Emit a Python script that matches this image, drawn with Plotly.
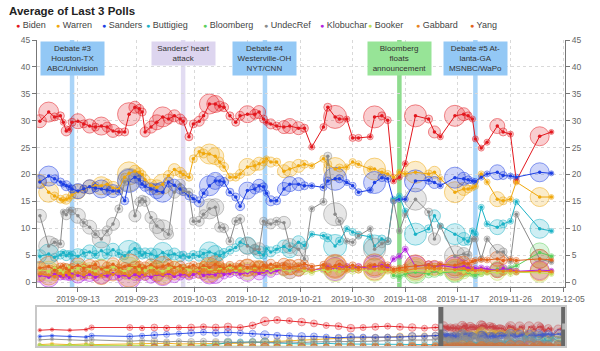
import plotly.graph_objects as go

# ---------------- data (main window) ----------------
dates = [
    "2019-09-06 12:00", "2019-09-08", "2019-09-09", "2019-09-10", "2019-09-10 12:00",
    "2019-09-11", "2019-09-11 12:00", "2019-09-12", "2019-09-13", "2019-09-14",
    "2019-09-15", "2019-09-16", "2019-09-17", "2019-09-18", "2019-09-19",
    "2019-09-20", "2019-09-21", "2019-09-21 18:00", "2019-09-22 18:00", "2019-09-23 12:00",
    "2019-09-24", "2019-09-24 12:00", "2019-09-25 12:00", "2019-09-26 12:00", "2019-09-27 12:00",
    "2019-09-28 12:00", "2019-09-29 12:00", "2019-09-30 12:00", "2019-10-01", "2019-10-02",
    "2019-10-02 18:00", "2019-10-03 18:00", "2019-10-04 12:00", "2019-10-05 12:00", "2019-10-06 12:00",
    "2019-10-07 06:00", "2019-10-08", "2019-10-09", "2019-10-10", "2019-10-10 18:00",
    "2019-10-12", "2019-10-13 06:00", "2019-10-14", "2019-10-14 18:00", "2019-10-15 06:00",
    "2019-10-16", "2019-10-17", "2019-10-18 06:00", "2019-10-19 06:00", "2019-10-20 18:00",
    "2019-10-21 18:00", "2019-10-23", "2019-10-25", "2019-10-25 18:00", "2019-10-27",
    "2019-10-27 18:00", "2019-10-29", "2019-10-30", "2019-10-31", "2019-11-02",
    "2019-11-02 18:00", "2019-11-04", "2019-11-05", "2019-11-06", "2019-11-07",
    "2019-11-08", "2019-11-09 18:00", "2019-11-12", "2019-11-13", "2019-11-14",
    "2019-11-16 12:00", "2019-11-18", "2019-11-18 18:00", "2019-11-19 12:00", "2019-11-20",
    "2019-11-21", "2019-11-22", "2019-11-23 18:00", "2019-11-24 18:00", "2019-11-26",
    "2019-11-27", "2019-12-01", "2019-12-03",
]

poll_size = [
    13, 20, 8, 8, 6, 10, 6, 8, 15, 8,
    14, 8, 18, 10, 13, 8, 8, 23, 12, 9,
    8, 10, 12, 15, 20, 10, 12, 10, 8, 8,
    8, 10, 9, 20, 17, 10, 9, 8, 8, 9,
    17, 10, 13, 8, 6, 10, 8, 13, 15, 13,
    8, 6, 7, 8, 23, 8, 6, 7, 7, 6,
    22, 8, 7, 6, 6, 6, 22, 8, 12, 6,
    21, 13, 8, 6, 6, 6, 6, 15, 8, 6,
    6, 19, 5,
]

biden = [
    29.9, 31.6, 30.7, 30.9, 29.7, 28.1, 28.4, 29.7, 29.9, 29.4,
    29.0, 28.8, 29.0, 28.8, 28.1, 27.9, 27.9, 31.2, 32.5, 32.2,
    31.6, 27.9, 28.8, 29.7, 30.7, 30.3, 30.9, 30.3, 29.9, 27.0,
    29.4, 29.9, 30.9, 33.1, 33.1, 32.7, 32.5, 30.9, 29.7, 30.9,
    31.2, 31.2, 31.6, 30.3, 29.7, 29.4, 29.0, 28.8, 29.0, 28.6,
    28.6, 25.1, 28.8, 32.5, 30.7, 30.3, 30.3, 26.8, 26.8, 27.0,
    30.7, 30.9, 30.1, 18.8, 19.5, 22.0, 30.9, 30.3, 27.9, 27.0,
    30.9, 31.2, 30.9, 30.3, 26.6, 24.9, 26.0, 29.0, 27.9, 27.5,
    18.8, 27.1, 27.9,
]
warren = [
    18.8, 16.7, 16.0, 15.4, 15.2, 15.4, 15.6, 16.2, 16.8, 17.2,
    17.7, 17.9, 17.9, 18.2, 17.5, 17.3, 19.5, 20.2, 20.6, 20.4,
    20.0, 19.0, 18.0, 17.6, 18.2, 19.8, 20.9, 20.4, 20.0, 19.5,
    22.9, 24.2, 23.9, 23.8, 23.4, 22.3, 21.4, 19.5, 19.5, 20.1,
    21.4, 21.6, 22.0, 22.3, 22.9, 22.3, 22.3, 20.6, 21.0, 21.6,
    21.9, 21.6, 22.9, 21.9, 21.0, 21.2, 21.4, 22.3, 21.9, 21.0,
    21.0, 20.4, 20.1, 19.5, 20.4, 20.1, 20.4, 20.1, 20.4, 19.2,
    16.7, 17.3, 17.3, 17.5, 17.8, 20.1, 18.6, 15.4, 15.1, 15.4,
    18.6, 15.8, 15.8,
]
sanders = [
    18.6, 19.7, 19.2, 18.6, 18.2, 17.9, 17.7, 17.3, 16.9, 17.3,
    17.7, 17.5, 17.3, 17.1, 16.9, 16.9, 15.1, 18.8, 19.5, 19.0,
    18.2, 17.8, 17.3, 16.9, 16.7, 18.6, 18.0, 17.3, 16.8, 16.0,
    15.5, 14.9, 16.5, 17.9, 18.8, 18.8, 18.6, 16.7, 15.8, 14.1,
    17.0, 17.3, 17.9, 17.7, 16.5, 15.1, 15.1, 17.3, 18.2, 18.2,
    17.9, 17.9, 17.6, 18.8, 19.2, 19.2, 18.5, 17.9, 16.7, 17.1,
    18.5, 19.4, 19.2, 15.1, 15.4, 15.4, 18.8, 18.9, 18.5, 17.9,
    19.4, 19.2, 19.0, 18.8, 18.7, 19.5, 20.1, 20.4, 19.8, 19.7,
    19.5, 20.4, 20.2,
]
buttigieg = [
    4.8, 5.2, 4.6, 5.0, 5.5, 4.9, 5.3, 5.0, 4.8, 5.4,
    5.6, 5.1, 5.8, 5.2, 6.0, 5.3, 4.9, 5.6, 6.2, 5.5,
    5.0, 5.4, 5.2, 4.8, 5.5, 5.0, 5.2, 4.7, 5.0, 4.6,
    5.1, 4.8, 5.3, 5.6, 5.2, 4.9, 5.4, 5.9, 6.4, 7.4,
    6.8, 6.0, 5.5, 5.0, 6.2, 5.6, 6.1, 6.6, 5.9, 7.4,
    6.8, 8.9, 8.6, 8.2, 6.7, 7.6, 9.9, 9.3, 8.8, 8.4,
    6.7, 8.0, 7.6, 15.4, 16.0, 13.2, 8.9, 9.9, 12.3, 10.4,
    8.9, 8.0, 7.6, 9.5, 8.9, 13.9, 10.8, 10.2, 10.8, 11.3,
    14.9, 9.9, 9.5,
]
bloomberg = [None] * 63 + [
    1.2, 1.0, 1.5, 1.8, 1.5, 2.0, 1.7,
    1.9, 2.2, 1.8, 1.5, 1.2, 1.6, 1.9, 2.4, 2.2, 2.6,
    3.0, 5.5, 4.8,
]
undecref = [
    12.3, 6.7, 7.4, 7.1, 13.0, 12.5, 13.4, 13.2, 12.3, 11.0,
    10.2, 8.9, 8.0, 9.5, 10.8, 13.6, 18.6, 19.0, 12.3, 14.9,
    15.4, 15.0, 12.0, 10.4, 9.7, 8.9, 16.7, 18.2, 16.9, 16.7,
    11.3, 11.3, 12.6, 13.6, 13.9, 10.2, 10.0, 7.6, 11.3, 11.7,
    6.7, 6.1, 6.1, 11.3, 11.0, 10.8, 11.3, 11.0, 6.7, 6.1,
    4.3, 13.6, 14.9, 23.4, 12.6, 11.3, 7.6, 7.4, 8.6, 9.9,
    6.1, 7.1, 7.6, 15.1, 9.5, 12.5, 15.4, 13.0, 8.0, 10.4,
    4.8, 5.2, 5.0, 8.0, 8.0, 4.3, 8.0, 5.6, 5.6, 3.9,
    12.6, 4.3, 3.7,
]
klobuchar = [
    1.2, 0.9, 1.4, 1.1, 1.0, 1.3, 0.8, 1.5, 1.2, 1.0,
    1.4, 0.9, 1.3, 1.1, 1.6, 1.0, 1.3, 0.8, 1.4, 1.1,
    1.5, 1.2, 0.9, 1.4, 1.2, 1.6, 1.0, 1.3, 1.5, 1.1,
    1.4, 1.7, 1.2, 1.5, 1.3, 1.8, 1.4, 1.6, 1.9, 1.5,
    1.7, 2.0, 1.6, 1.9, 2.2, 1.8, 2.1, 2.4, 2.0, 2.3,
    2.6, 2.2, 2.5, 2.8, 2.4, 2.7, 2.9, 2.5, 2.8, 2.6,
    2.9, 3.1, 2.7, 4.3, 4.8, 6.1, 2.9, 3.2, 2.8, 3.1,
    2.7, 2.9, 2.6, 2.4, 2.5, 2.6, 2.4, 2.2, 2.5, 2.3,
    2.0, 2.2, 2.1,
]
booker = [
    2.3, 2.0, 2.6, 2.2, 1.8, 2.4, 2.7, 2.1, 2.5, 2.9,
    2.3, 2.0, 2.6, 2.2, 2.8, 2.4, 2.0, 2.5, 2.9, 2.3,
    2.6, 2.1, 2.7, 2.4, 2.0, 2.5, 2.8, 2.2, 2.6, 2.3,
    2.0, 2.5, 2.9, 2.4, 2.1, 2.6, 2.3, 2.8, 2.2, 2.5,
    2.0, 2.4, 2.7, 2.2, 2.5, 2.1, 2.6, 2.3, 2.0, 2.4,
    2.1, 1.8, 2.3, 2.0, 2.2, 1.9, 2.4, 2.1, 2.3, 2.0,
    2.2, 1.9, 2.1, 1.8, 2.0, 1.9, 2.2, 2.0, 2.3, 1.9,
    2.1, 1.8, 2.0, 1.7, 1.9, 1.6, 1.8, 1.7, 1.9, 1.6,
    1.8, 1.7, 1.5,
]
gabbard = [
    1.5, 1.3, 1.0, 1.6, 1.2, 1.8, 1.4, 1.1, 1.7, 1.3,
    1.9, 1.5, 1.2, 1.8, 1.4, 2.0, 1.6, 1.2, 1.9, 1.5,
    1.8, 1.3, 2.0, 1.6, 1.4, 1.9, 1.5, 2.1, 1.7, 1.3,
    2.0, 1.6, 2.2, 1.8, 2.3, 1.9, 2.4, 2.0, 2.5, 2.1,
    2.6, 2.2, 2.8, 2.3, 2.7, 2.4, 2.9, 2.5, 2.8, 2.3,
    2.6, 2.2, 2.7, 2.4, 2.8, 2.5, 2.2, 2.6, 2.3, 2.7,
    2.4, 2.6, 2.3, 2.0, 2.2, 2.1, 2.5, 2.7, 2.4, 2.6,
    2.3, 2.5, 2.2, 2.4, 2.1, 2.3, 2.0, 2.2, 2.0, 2.1,
    1.9, 2.0, 1.9,
]
yang = [
    2.6, 2.9, 2.2, 2.8, 3.0, 2.5, 2.2, 2.7, 3.1, 2.6,
    2.9, 3.2, 2.4, 2.8, 3.3, 2.6, 2.9, 3.1, 2.7, 3.0,
    2.5, 2.8, 3.2, 2.6, 2.9, 3.3, 2.7, 3.0, 2.5, 2.8,
    3.1, 2.6, 3.0, 2.7, 3.3, 2.9, 2.6, 3.1, 2.8, 3.2,
    2.7, 3.0, 2.6, 3.1, 2.8, 3.3, 2.9, 3.2, 2.7, 3.0,
    3.4, 2.9, 3.2, 2.6, 3.0, 3.3, 2.8, 3.1, 2.7, 3.0,
    3.2, 2.9, 3.1, 2.4, 2.6, 2.8, 3.0, 3.2, 2.9, 3.3,
    3.1, 3.6, 3.4, 3.8, 4.0, 4.2, 4.1, 4.3, 4.0, 4.2,
    4.0, 4.3, 4.1,
]

# ---------------- data (earlier polls, seen only in the overview slider) ----------------
early_dates = [
    "2018-11-16", "2018-11-25", "2018-12-08", "2018-12-20", "2018-12-24",
    "2019-01-21", "2019-01-30", "2019-02-08", "2019-02-17", "2019-02-26",
    "2019-03-07", "2019-03-16", "2019-03-25", "2019-04-03", "2019-04-12",
    "2019-04-21", "2019-04-30", "2019-05-09", "2019-05-18", "2019-05-27",
    "2019-06-05", "2019-06-14", "2019-06-23", "2019-07-02", "2019-07-11",
    "2019-07-20", "2019-07-29", "2019-08-07", "2019-08-16", "2019-08-25",
    "2019-09-02",
]
early_size = [6, 6, 6, 6, 10, 12, 10, 14, 12, 10, 14, 12, 14, 16, 12, 14,
              18, 14, 12, 16, 14, 12, 14, 16, 12, 14, 12, 14, 16, 12, 14]
early_biden = [26, 27, 26, 27, 30, 30, 29, 30, 29, 30, 30, 31, 30, 31, 30, 33,
               39, 41, 40, 38, 36, 33, 32, 29, 30, 31, 32, 31, 30, 29, 30]
early_warren = [5, 6, 5, 6, 5, 6, 7, 7, 7, 6, 6, 6, 7, 7, 7, 8,
                9, 10, 11, 12, 13, 14, 14, 15, 15, 15, 16, 17, 17, 18, 18]
early_sanders = [17, 18, 17, 16, 18, 17, 18, 19, 20, 21, 22, 23, 22, 23, 22, 21,
                 19, 18, 18, 17, 17, 16, 15, 16, 16, 15, 16, 16, 17, 17, 18]
early_buttigieg = [0, 0, 0, 0, 0, 0.5, 0.5, 1, 1, 1, 2, 3, 5, 8, 9, 9,
                   8, 7, 6, 6, 6, 7, 6, 6, 5, 5, 5, 5, 5, 5, 5]
early_bloomberg = [4, 3, 4, 4, 3, 3, 3, 2, 2, 2] + [None] * 21
early_undecref = [12, 13, 12, 11, 12, 10, 11, 10, 9, 10, 9, 10, 9, 9, 8, 9,
                  8, 8, 9, 8, 9, 9, 10, 9, 10, 10, 11, 11, 12, 11, 12]
early_klobuchar = [0.5, 1, 1, 1, 1.5, 1.5, 2, 2, 1.5, 1.5, 1, 1, 1, 1, 1, 1.5,
                   1, 1, 1, 1, 1, 1, 1, 1, 1.5, 1, 1, 1, 1.5, 1, 1.5]
early_booker = [4, 4, 5, 4, 4, 4, 4, 3, 3, 3, 3, 3, 3, 2, 2, 2,
                2, 3, 3, 3, 2, 2, 2, 3, 2, 2, 2, 2, 2, 2, 2]
early_gabbard = [0, 0, 0, 0, 0, 0.5, 0.5, 0.5, 1, 1, 1, 1, 1, 1, 1, 1,
                 1, 1, 1, 1, 1, 1.5, 1.5, 1.5, 1.5, 1, 1, 1.5, 1.5, 1.5, 1.5]
early_yang = [0, 0, 0, 0, 0, 0, 0, 0.5, 0.5, 0.5, 1, 1, 1, 1, 1, 1,
              1, 1, 1, 1, 1.5, 1.5, 2, 2, 2.5, 2.5, 2.5, 2.5, 3, 3, 3]

candidates = ["Biden", "Warren", "Sanders", "Buttigieg", "Bloomberg",
              "UndecRef", "Klobuchar", "Booker", "Gabbard", "Yang"]
colors = ["#e3171e", "#f0a80c", "#1d3fe3", "#1bb2c6", "#5ccf5c",
          "#8a8a8a", "#b31fe0", "#c3df55", "#e8831f", "#e2621b"]
main_values = [biden, warren, sanders, buttigieg, bloomberg,
               undecref, klobuchar, booker, gabbard, yang]
early_values = [early_biden, early_warren, early_sanders, early_buttigieg, early_bloomberg,
                early_undecref, early_klobuchar, early_booker, early_gabbard, early_yang]

events = [
    ("2019-09-12", "Debate #3<br>Houston-TX<br>ABC/Univision", "#93c8f5", "#a9d4f8", 3),
    ("2019-10-01", "Sanders' heart<br>attack", "#ddd5ef", "#e2dcf2", 2),
    ("2019-10-15", "Debate #4<br>Westerville-OH<br>NYT/CNN", "#93c8f5", "#a9d4f8", 3),
    ("2019-11-07", "Bloomberg<br>floats<br>announcement", "#97e497", "#8edc8e", 3),
    ("2019-11-20", "Debate #5 At-<br>lanta-GA<br>MSNBC/WaPo", "#93c8f5", "#a9d4f8", 3),
]

y_ticks = [0, 5, 10, 15, 20, 25, 30, 35, 40, 45]
x_ticks = ["2019-09-13", "2019-09-23", "2019-10-03", "2019-10-12", "2019-10-21",
           "2019-10-30", "2019-11-08", "2019-11-17", "2019-11-26", "2019-12-05"]

FONT = "Liberation Sans, Arial, sans-serif"


def rgba(hx, a):
    hx = hx.lstrip("#")
    r, g, b = int(hx[0:2], 16), int(hx[2:4], 16), int(hx[4:6], 16)
    return f"rgba({r},{g},{b},{a})"


fig = go.Figure()

# main chart: bubbles
for name, col, vals in zip(candidates, colors, main_values):
    fig.add_trace(go.Scatter(
        x=dates, y=vals, mode="markers", name=name, showlegend=False,
        marker=dict(size=poll_size, sizemode="diameter", color=rgba(col, 0.3),
                    line=dict(color=rgba(col, 0.75), width=1)),
        xaxis="x", yaxis="y", hoverinfo="skip"))
# main chart: lines with small dots
for name, col, vals in zip(candidates, colors, main_values):
    fig.add_trace(go.Scatter(
        x=dates, y=vals, mode="lines+markers", name=name, showlegend=False,
        line=dict(color=col, width=1), marker=dict(size=3.5, color=col),
        connectgaps=True, xaxis="x", yaxis="y"))

# right axis companion (invisible)
fig.add_trace(go.Scatter(x=[dates[0]], y=[0], mode="markers", marker=dict(opacity=0),
                         showlegend=False, hoverinfo="skip", xaxis="x", yaxis="y2"))

# overview slider
all_dates = early_dates + dates
all_sizes = [s * 0.42 + 1 for s in early_size + poll_size]
for name, col, ev, mv in zip(candidates, colors, early_values, main_values):
    vals = ev + mv
    fig.add_trace(go.Scatter(
        x=all_dates, y=vals, mode="markers", showlegend=False, hoverinfo="skip",
        marker=dict(size=all_sizes, color=rgba(col, 0.3), line=dict(color=rgba(col, 0.75), width=0.8)),
        xaxis="x2", yaxis="y3"))
    fig.add_trace(go.Scatter(
        x=all_dates, y=vals, mode="lines+markers", showlegend=False, hoverinfo="skip",
        line=dict(color=col, width=0.9), marker=dict(size=2, color=col), connectgaps=True,
        xaxis="x2", yaxis="y3"))

MAIN_BOTTOM = 0.1928
SL_TOP = 0.1275

shapes = []
annotations = []
for d, label, boxcol, linecol, nlines in events:
    shapes.append(dict(type="line", xref="x", yref="paper", x0=d, x1=d,
                       y0=MAIN_BOTTOM, y1=1, line=dict(color=linecol, width=4.5),
                       layer="between"))
    annotations.append(dict(x=d, xref="x", y=0.997, yref="paper", xanchor="center",
                            yanchor="top", text=label, showarrow=False, align="center",
                            font=dict(size=8, color="#333", family=FONT), bgcolor=boxcol,
                            width=59, height=29 if nlines == 3 else 19, borderpad=2))

# slider selection window and handles
shapes.append(dict(type="rect", xref="x2", yref="paper", x0="2019-09-06", x1="2019-12-05",
                   y0=0, y1=SL_TOP, fillcolor="rgba(150,150,150,0.35)", line=dict(width=0),
                   layer="above"))
for hd in ["2019-09-06", "2019-12-05"]:
    shapes.append(dict(type="rect", xref="x2", yref="paper", xsizemode="pixel", xanchor=hd,
                       x0=-2.5, x1=2.5, y0=0, y1=SL_TOP, fillcolor="#686868",
                       line=dict(width=0), layer="above"))
    shapes.append(dict(type="rect", xref="x2", yref="paper", xsizemode="pixel", xanchor=hd,
                       ysizemode="pixel", yanchor=SL_TOP / 2, x0=-1.5, x1=1.5, y0=-3, y1=3,
                       fillcolor="#b5b5b5", line=dict(width=0), layer="above"))

# legend row (dots + names), dot centres in pixels
legend_dot_x = [17, 57, 103, 147, 204, 265, 321, 369, 417, 471]
for name, col, lx in zip(candidates, colors, legend_dot_x):
    annotations.append(dict(
        x=(lx - 3 - 37) / 528, xref="paper", y=1.049, yref="paper", xanchor="left",
        yanchor="middle", showarrow=False,
        text=f"<span style='color:{col};font-size:7px'>●</span> {name}",
        font=dict(size=9, color="#444", family=FONT)))

axis_common = dict(showline=True, linecolor="#777", linewidth=1, ticks="outside",
                   ticklen=4, tickcolor="#777", tickfont=dict(size=8.5, color="#666", family=FONT))

fig.update_layout(
    width=600, height=351,
    margin=dict(l=37, r=35, t=40, b=5),
    paper_bgcolor="white", plot_bgcolor="white",
    font=dict(family=FONT, size=8.5, color="#666"),
    showlegend=False,
    title=dict(text="<b>Average of Last 3 Polls</b>", x=9 / 600, xref="container",
               xanchor="left", y=1 - 11 / 351, yref="container", yanchor="middle",
               font=dict(size=11.5, color="#222", family=FONT)),
    xaxis=dict(domain=[0, 1], anchor="y", type="date",
               range=["2019-09-06", "2019-12-05 08:00"],
               tickvals=x_ticks, ticktext=x_ticks, showgrid=True, gridcolor="#d9d9d9",
               griddash="dot", zeroline=False, **axis_common),
    yaxis=dict(domain=[MAIN_BOTTOM, 1], anchor="x", range=[-0.93, 45], tickvals=y_ticks,
               showgrid=True, gridcolor="#d9d9d9", griddash="dot", zeroline=False,
               **axis_common),
    yaxis2=dict(overlaying="y", side="right", anchor="x", range=[-0.93, 45],
                tickvals=y_ticks, showgrid=False, zeroline=False, **axis_common),
    xaxis2=dict(domain=[0, 1], anchor="y3", type="date",
                range=["2018-11-14", "2019-12-06"], showticklabels=False, ticks="",
                showgrid=False, zeroline=False, showline=True, mirror=True,
                linecolor="#c8c8c8", linewidth=1.5),
    yaxis3=dict(domain=[0, SL_TOP], anchor="x2", range=[3, 60], showticklabels=False,
                ticks="", showgrid=False, zeroline=False, showline=True, mirror=True,
                linecolor="#c8c8c8", linewidth=1.5),
    shapes=shapes,
    annotations=annotations,
)

fig.write_html("out.html")
